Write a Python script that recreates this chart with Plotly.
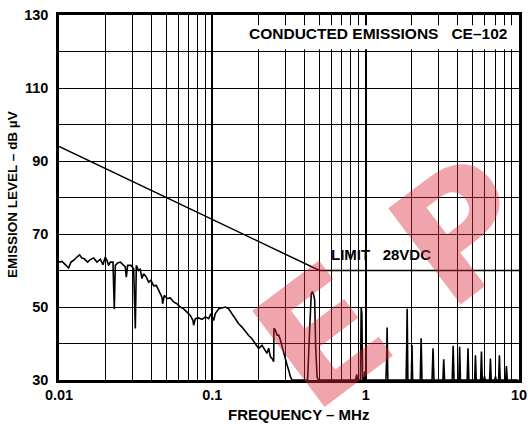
import plotly.graph_objects as go

# ---------------- data ----------------
limit_freq = [0.01, 0.5, 10]
limit_level = [94, 60, 60]

emis_freq = [
    0.0100, 0.01045, 0.0110, 0.01156, 0.01197, 0.01246, 0.0131, 0.01363, 0.01411, 0.01462,
    0.01538, 0.0160, 0.01682, 0.01769, 0.01860, 0.01935, 0.02004, 0.02055, 0.02107, 0.02161,
    0.02249, 0.02294, 0.02330, 0.02413, 0.02512, 0.02615, 0.02707, 0.02748, 0.02804, 0.02948,
    0.03068, 0.03146, 0.03193, 0.03306, 0.03390, 0.03476, 0.03565, 0.03711, 0.03843, 0.03981,
    0.04143, 0.04312, 0.04533, 0.04695, 0.04742, 0.04862, 0.05061, 0.05321, 0.05594, 0.05882,
    0.06183, 0.06501, 0.06834, 0.07186, 0.07480, 0.07555, 0.07746, 0.08144, 0.08563, 0.09004,
    0.09465, 0.09802, 0.1020, 0.1046, 0.1100, 0.1156, 0.1216, 0.1278, 0.1344, 0.1413,
    0.1485, 0.1561, 0.1642, 0.1726, 0.1814, 0.1908, 0.2005, 0.2109, 0.2183, 0.2216,
    0.2273, 0.2331, 0.2389, 0.2450, 0.2513, 0.2522, 0.2576, 0.2641, 0.2708, 0.2777,
    0.2848, 0.2920, 0.2994, 0.3070, 0.3148, 0.3228, 0.3309, 0.36, 0.39, 0.418,
    0.431, 0.442, 0.449, 0.458, 0.465, 0.472, 0.482, 0.492, 0.55, 0.70,
    0.86, 0.875, 0.885, 0.925, 0.935, 0.945, 0.955, 0.975, 0.985, 0.995,
    1.10, 1.355, 1.372, 1.380, 1.395, 1.60, 1.835, 1.852, 1.865, 1.885,
    1.985, 2.005, 2.025, 2.27, 2.30, 2.33, 2.71, 2.75, 2.79, 3.19,
    3.23, 3.27, 3.67, 3.72, 3.77, 4.05, 4.10, 4.15, 4.59, 4.65,
    4.71, 5.14, 5.20, 5.26, 5.62, 5.69, 5.76, 5.90, 5.96, 6.02,
    6.43, 6.51, 6.59, 6.95, 7.02, 7.09, 7.36, 7.45, 7.54, 8.18,
    8.28, 8.38, 9.90,
]
emis_level = [
    62.3, 62.5, 61.6, 60.7, 62.3, 62.8, 63.7, 64.3, 63.4, 63.2,
    62.3, 63.0, 63.4, 62.3, 63.1, 61.6, 63.7, 62.8, 61.4, 62.3,
    62.3, 49.4, 61.4, 62.1, 62.3, 61.6, 61.0, 58.2, 61.4, 61.4,
    60.5, 44.1, 61.4, 60.0, 60.3, 57.8, 59.1, 58.2, 56.8, 57.3,
    55.8, 55.9, 54.1, 52.7, 50.9, 53.2, 52.3, 52.5, 51.4, 50.9,
    50.0, 49.5, 48.6, 47.7, 46.3, 45.0, 46.8, 47.0, 46.6, 47.3,
    46.8, 48.2, 46.3, 48.2, 49.5, 49.7, 50.0, 49.5, 48.2, 47.0,
    45.4, 44.5, 43.2, 42.2, 41.3, 40.0, 38.6, 39.5, 38.4, 37.8,
    37.3, 38.7, 36.4, 35.9, 35.0, 44.2, 43.7, 42.3, 42.3, 41.0,
    39.1, 37.8, 35.9, 34.1, 32.7, 30.9, 30.0, 30.0, 30.0, 30.0,
    43.7, 53.7, 54.2, 53.3, 51.9, 39.1, 30.9, 30.0, 30.0, 30.0,
    30.0, 31.5, 30.0, 30.0, 50.0, 48.0, 30.0, 30.0, 32.3, 30.0,
    30.0, 30.0, 36.4, 44.4, 30.0, 30.0, 30.0, 39.0, 49.5, 30.0,
    30.0, 39.6, 30.0, 30.0, 41.4, 30.0, 30.0, 38.7, 30.0, 30.0,
    35.7, 30.0, 30.0, 39.4, 30.0, 30.0, 39.1, 30.0, 30.0, 38.7,
    30.0, 30.0, 36.8, 30.0, 30.0, 37.8, 30.0, 30.0, 31.0, 30.0,
    30.0, 35.9, 30.0, 30.0, 31.0, 30.0, 30.0, 36.8, 30.0, 30.0,
    33.8, 30.0, 30.0,
]

x_tick_vals = [0.01, 0.1, 1, 10]
x_tick_text = ["0.01", "0.1", "1", "10"]
x_minor_vals = [m * d for d in (0.01, 0.1, 1) for m in range(2, 10)]
y_tick_vals = [30, 50, 70, 90, 110, 130]
y_tick_text = ["30", "50", "70", "90", "110", "130"]
y_minor_vals = [40, 60, 80, 100, 120]

FONT = "Arial, Liberation Sans, Helvetica, sans-serif"

fig = go.Figure()
fig.add_trace(go.Scatter(x=limit_freq, y=limit_level, mode="lines",
                         line=dict(color="black", width=1.5), hoverinfo="skip"))
fig.add_trace(go.Scatter(x=emis_freq, y=emis_level, mode="lines",
                         line=dict(color="black", width=1.6), hoverinfo="skip"))

fig.update_layout(
    width=528, height=424, autosize=False,
    margin=dict(l=59, r=9, t=15, b=44),
    paper_bgcolor="white", plot_bgcolor="white",
    showlegend=False,
    font=dict(family=FONT, color="black"),
    xaxis=dict(
        type="log", range=[-2, 1], automargin=False,
        tickvals=x_tick_vals, ticktext=x_tick_text,
        tickfont=dict(size=14.5, weight="bold", family=FONT, color="black"),
        showgrid=True, gridcolor="black", gridwidth=2,
        minor=dict(tickvals=x_minor_vals, showgrid=True, gridcolor="black", gridwidth=1.2, ticks=""),
        showline=True, linecolor="black", linewidth=2.5, mirror=True,
        ticks="", zeroline=False,
    ),
    yaxis=dict(
        range=[30, 130], automargin=False,
        tickvals=y_tick_vals, ticktext=y_tick_text,
        tickfont=dict(size=14.5, weight="bold", family=FONT, color="black"),
        showgrid=True, gridcolor="black", gridwidth=1.2,
        minor=dict(tickvals=y_minor_vals, showgrid=True, gridcolor="black", gridwidth=1.2, ticks=""),
        showline=True, linecolor="black", linewidth=2.5, mirror=True,
        ticks="", zeroline=False, ticklabelstandoff=5,
    ),
)

# white box behind the title text
fig.add_shape(type="rect", xref="paper", yref="paper",
              x0=0.39, x1=0.991, y0=0.906, y1=0.972,
              fillcolor="white", line=dict(width=0), layer="above")

fig.add_annotation(text="CONDUCTED EMISSIONS\u00a0\u00a0\u00a0CE\u2013102",
                   xref="paper", yref="paper", x=0.9776, y=0.9493,
                   xanchor="right", yanchor="middle", showarrow=False,
                   font=dict(size=15.5, weight="bold", family=FONT, color="black"))
fig.add_annotation(text="LIMIT\u00a0\u00a0\u00a028VDC",
                   xref="paper", yref="paper", x=0.5867, y=0.3433,
                   xanchor="left", yanchor="middle", showarrow=False,
                   font=dict(size=15, weight="bold", family=FONT, color="black"))
fig.add_annotation(text="FREQUENCY \u2013 MHz",
                   xref="paper", yref="paper", x=0.5207, y=-0.0932,
                   xanchor="center", yanchor="middle", showarrow=False,
                   font=dict(size=15, weight="bold", family=FONT, color="black"))
fig.add_annotation(text="EMISSION LEVEL \u2013 dB \u00b5V",
                   xref="paper", yref="paper", x=-0.1002, y=0.5096,
                   xanchor="center", yanchor="middle", showarrow=False, textangle=-90,
                   font=dict(size=13.5, weight="bold", family=FONT, color="black"))

# red watermark stamp
fig.add_annotation(text="E\u00a0P\u00a0R",
                   xref="paper", yref="paper", x=0.89, y=0.42,
                   xanchor="center", yanchor="middle", showarrow=False, textangle=-37,
                   font=dict(size=165, weight="bold", family="DejaVu Sans", color="rgba(220,40,60,0.42)"))

fig.write_html("out.html", config={"displayModeBar": False, "responsive": False},
               post_script="document.body.style.margin='0';"
                           "document.documentElement.style.overflow='hidden';"
                           "document.body.style.overflow='hidden';")
